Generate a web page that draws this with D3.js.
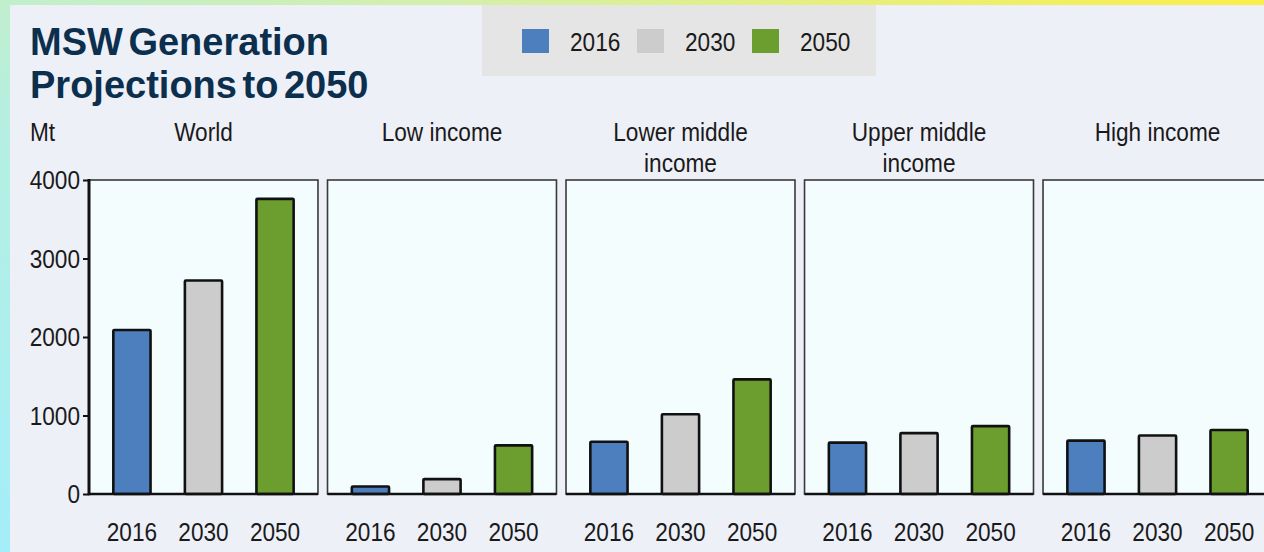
<!DOCTYPE html>
<html>
<head>
<meta charset="utf-8">
<script src="https://cdn.jsdelivr.net/npm/d3@7/dist/d3.min.js"></script>
<style>
  html, body { margin: 0; padding: 0; background: #eef0f8; }
  svg { display: block; }
  text { font-family: "Liberation Sans", Arial, sans-serif; }
</style>
</head>
<body>
<svg id="chart" width="1264" height="552"></svg>
<script>
// ---------- data ----------
const categories = ["World", "Low income", "Lower middle income", "Upper middle income", "High income"];
const panelTitles = [["World"], ["Low income"], ["Lower middle", "income"], ["Upper middle", "income"], ["High income"]];
const years = ["2016", "2030", "2050"];
const values2016 = [2090, 95, 665, 655, 680];
const values2030 = [2720, 190, 1015, 775, 745];
const values2050 = [3760, 620, 1460, 865, 815];
const yTicks = [0, 1000, 2000, 3000, 4000];
const seriesColors = ["#4d7fbf", "#cccccc", "#6b9e2f"];
const titleLines = ["MSW Generation", "Projections to 2050"];
const unitLabel = "Mt";

const seriesValues = [values2016, values2030, values2050];

const W = 1264, H = 552;
const FS = 26, SX = 0.87;
const svg = d3.select("#chart");

// ---------- background ----------
const defs = svg.append("defs");
const grad = defs.append("linearGradient").attr("id", "bg")
  .attr("x1", "0%").attr("y1", "100%").attr("x2", "100%").attr("y2", "0%");
grad.append("stop").attr("offset", "0%").attr("stop-color", "#a4eefa");
grad.append("stop").attr("offset", "40%").attr("stop-color", "#b6efe0");
grad.append("stop").attr("offset", "70%").attr("stop-color", "#d6efa6");
grad.append("stop").attr("offset", "100%").attr("stop-color", "#fbee48");
svg.append("rect").attr("width", W).attr("height", H).attr("fill", "url(#bg)");
svg.append("rect").attr("x", 10).attr("y", 5).attr("width", W - 10).attr("height", H - 5).attr("fill", "#eef0f8");

// ---------- title ----------
svg.append("g").selectAll("text").data(titleLines).join("text")
  .attr("x", 30).attr("y", (d, i) => 55 + i * 43)
  .attr("fill", "#0c2f4e").attr("font-weight", "bold").attr("font-size", 38)
  .attr("word-spacing", -5)
  .text(d => d);

// ---------- legend ----------
svg.append("rect").attr("x", 482).attr("y", 5).attr("width", 394).attr("height", 71).attr("fill", "#e5e5e5");
const legendX = d3.scaleOrdinal().domain(years).range([522, 637, 752]);
const lg = svg.append("g").selectAll("g").data(years).join("g")
  .attr("transform", d => `translate(${legendX(d)},29)`);
lg.append("rect").attr("width", 27).attr("height", 24).attr("fill", (d, i) => seriesColors[i]);
lg.append("text").attr("transform", `translate(48,22) scale(${SX},1)`)
  .attr("font-size", FS).attr("fill", "#1a1a1a").text(d => d);

// ---------- scales ----------
const y = d3.scaleLinear().domain([0, 4000]).range([494, 180]);
const panelX = d3.scaleBand().domain(categories).range([89, 1272]).paddingInner(0.04).paddingOuter(0);
const pw = panelX.bandwidth();
const innerX = d3.scaleBand().domain(years).range([0, pw]).paddingInner(0.48).paddingOuter(0.34);

// ---------- unit label ----------
svg.append("text").attr("transform", `translate(30,141) scale(${SX},1)`)
  .attr("font-size", FS).attr("fill", "#1a1a1a").text(unitLabel);

// ---------- y axis ticks and labels ----------
const yAxis = d3.axisLeft(y).tickValues(yTicks).tickSize(6).tickFormat(d3.format("d"));
const yg = svg.append("g").attr("transform", "translate(89,0)").call(yAxis);
yg.select(".domain").remove();
yg.selectAll(".tick line").attr("stroke", "#111").attr("stroke-width", 2);
yg.selectAll(".tick text").remove();
svg.append("g").selectAll("text").data(yTicks).join("text")
  .attr("transform", d => `translate(80,${y(d) + 9}) scale(${SX},1)`)
  .attr("text-anchor", "end").attr("font-size", FS).attr("fill", "#1a1a1a")
  .text(d => d3.format("d")(d));

// ---------- panels ----------
const panels = svg.append("g").selectAll("g").data(categories).join("g")
  .attr("transform", d => `translate(${panelX(d)},0)`);

panels.append("rect").attr("x", 0).attr("y", y(4000)).attr("width", pw).attr("height", y(0) - y(4000))
  .attr("fill", "#f3fdfe").attr("stroke", "#3a3a3a").attr("stroke-width", 1.6);

panels.each(function (cat, ci) {
  const g = d3.select(this);
  const rows = years.map((yr, si) => ({ yr, si, v: seriesValues[si][ci] }));
  g.selectAll("rect.bar").data(rows).join("rect").attr("class", "bar")
    .attr("x", d => innerX(d.yr)).attr("width", innerX.bandwidth())
    .attr("y", d => y(d.v)).attr("height", d => y(0) - y(d.v))
    .attr("fill", d => seriesColors[d.si]).attr("stroke", "#111").attr("stroke-width", 2.6)
    .attr("rx", 1);
  g.append("line").attr("x1", 0).attr("x2", pw).attr("y1", y(0)).attr("y2", y(0))
    .attr("stroke", "#111").attr("stroke-width", 2.6);
  g.selectAll("text.xl").data(years).join("text").attr("class", "xl")
    .attr("transform", d => `translate(${innerX(d) + innerX.bandwidth() / 2},541) scale(${SX},1)`)
    .attr("text-anchor", "middle").attr("font-size", FS).attr("fill", "#1a1a1a").text(d => d);
  g.selectAll("text.pt").data(panelTitles[ci]).join("text").attr("class", "pt")
    .attr("transform", (d, i) => `translate(${pw / 2},${141 + i * 31}) scale(${SX},1)`)
    .attr("text-anchor", "middle").attr("font-size", FS).attr("fill", "#1a1a1a").text(d => d);
});

// y axis line (left of World panel)
svg.append("line").attr("x1", 89).attr("x2", 89).attr("y1", y(4000) - 1).attr("y2", y(0) + 1.3)
  .attr("stroke", "#111").attr("stroke-width", 3);
</script>
</body>
</html>
